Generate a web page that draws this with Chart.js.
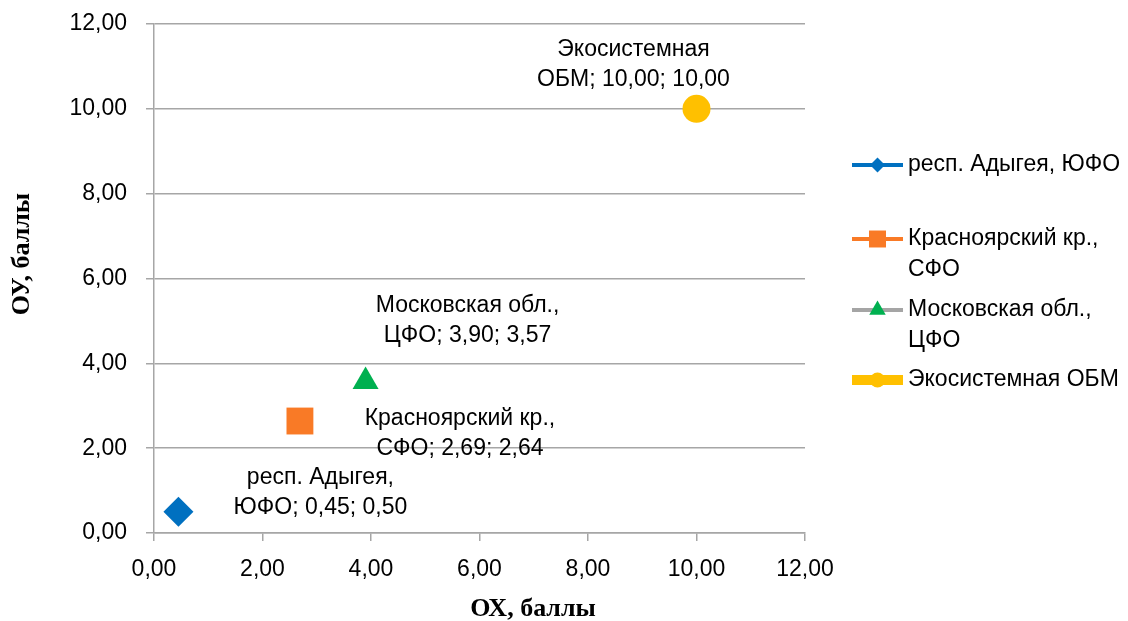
<!DOCTYPE html>
<html lang="ru">
<head>
<meta charset="utf-8">
<title>ОХ / ОУ, баллы</title>
<script src="https://cdn.jsdelivr.net/npm/chart.js@4/dist/chart.umd.min.js"></script>
<style>
  html, body { margin: 0; padding: 0; background: #ffffff; }
  #wrap { width: 1128px; height: 621px; }
</style>
</head>
<body>
<div id="wrap"><canvas id="chart" width="1128" height="621"></canvas></div>
<script>
// Regions and their scores on both axes
const regionNames = ['респ. Адыгея, ЮФО', 'Красноярский кр., СФО', 'Московская обл., ЦФО', 'Экосистемная ОБМ'];
const oxScores = [0.45, 2.69, 3.90, 10.00];
const oyScores = [0.50, 2.64, 3.57, 10.00];

// Axis range shared by OX and OY
const axisMin = 0;
const axisMax = 12;
const axisStep = 2;
const xAxisTitle = 'ОХ, баллы';
const yAxisTitle = 'ОУ, баллы';

// Marker and legend styling per series
const seriesStyle = [
  { color: '#0070C0', line: '#0070C0', lineWidth: 4, pointStyle: 'rectRot', radius: 15, legendRadius: 7.5 },
  { color: '#F97A26', line: '#F97A26', lineWidth: 4, pointStyle: 'rect', radius: 19, legendRadius: 12 },
  { color: '#00B050', line: '#A5A5A5', lineWidth: 4, pointStyle: 'triangle', radius: 15, legendRadius: 9.5 },
  { color: '#FFC000', line: '#FFC000', lineWidth: 10, pointStyle: 'circle', radius: 14, legendRadius: 7.5 }
];
// Where each value label sits relative to its marker (px)
const labelShift = [
  { dx: 142, dy: -19 },
  { dx: 160, dy: 13 },
  { dx: 102, dy: -61 },
  { dx: -63, dy: -44 }
];

const TEXT_FONT = '23px "Liberation Sans", Arial, sans-serif';
const TITLE_FONT = 'bold 26px "Liberation Serif", "Times New Roman", serif';
const fmt = v => v.toFixed(2).replace('.', ',');

// Breaks a name after its last comma, or after the first word
function splitName(name) {
  const c = name.lastIndexOf(', ');
  if (c >= 0) return [name.slice(0, c + 1), name.slice(c + 2)];
  const s = name.indexOf(' ');
  return s >= 0 ? [name.slice(0, s), name.slice(s + 1)] : [name];
}

const datasets = regionNames.map((name, i) => ({
  label: name,
  data: [{ x: oxScores[i], y: oyScores[i] }],
  pointStyle: seriesStyle[i].pointStyle,
  pointRadius: seriesStyle[i].radius,
  pointHoverRadius: seriesStyle[i].radius,
  backgroundColor: seriesStyle[i].color,
  borderColor: seriesStyle[i].color,
  borderWidth: 0,
  showLine: false
}));

// Value labels: "name; x; y" wrapped on two lines
const valueLabels = {
  id: 'valueLabels',
  afterDatasetsDraw(chart) {
    const ctx = chart.ctx;
    ctx.save();
    ctx.font = TEXT_FONT;
    ctx.fillStyle = '#000000';
    ctx.textAlign = 'center';
    ctx.textBaseline = 'middle';
    chart.data.datasets.forEach((ds, i) => {
      const el = chart.getDatasetMeta(i).data[0];
      const pt = ds.data[0];
      const parts = splitName(ds.label);
      const lines = [parts[0], (parts[1] ? parts[1] + '; ' : '') + fmt(pt.x) + '; ' + fmt(pt.y)];
      const cx = el.x + labelShift[i].dx;
      const cy = el.y + labelShift[i].dy;
      const lh = 30;
      lines.forEach((t, k) => {
        ctx.fillText(t, cx, cy + (k - (lines.length - 1) / 2) * lh);
      });
    });
    ctx.restore();
  }
};

// Axis titles
const axisTitles = {
  id: 'axisTitles',
  afterDraw(chart) {
    const ctx = chart.ctx;
    ctx.save();
    ctx.font = TITLE_FONT;
    ctx.fillStyle = '#000000';
    ctx.textAlign = 'center';
    ctx.textBaseline = 'middle';
    ctx.fillText(xAxisTitle, 533, 609);
    ctx.translate(22, 254);
    ctx.rotate(-Math.PI / 2);
    ctx.fillText(yAxisTitle, 0, 0);
    ctx.restore();
  }
};

// Legend with a line segment through each marker
const sideLegend = {
  id: 'sideLegend',
  afterDraw(chart, args, opts) {
    const ctx = chart.ctx;
    ctx.save();
    ctx.font = TEXT_FONT;
    ctx.textBaseline = 'middle';
    ctx.textAlign = 'left';
    chart.data.datasets.forEach((ds, i) => {
      const st = seriesStyle[i];
      const y = opts.rows[i];
      ctx.strokeStyle = st.line;
      ctx.lineWidth = st.lineWidth;
      ctx.lineCap = 'butt';
      ctx.beginPath();
      ctx.moveTo(opts.x0, y);
      ctx.lineTo(opts.x1, y);
      ctx.stroke();
      ctx.fillStyle = st.color;
      Chart.helpers.drawPoint(ctx, { pointStyle: st.pointStyle, radius: st.legendRadius, borderWidth: 0, rotation: 0 },
        (opts.x0 + opts.x1) / 2, y);
      ctx.fillStyle = '#000000';
      const lines = ctx.measureText(ds.label).width > opts.maxText ? splitName(ds.label) : [ds.label];
      lines.forEach((t, k) => ctx.fillText(t, opts.textX, y + k * 31));
    });
    ctx.restore();
  }
};

const gridColor = '#A6A6A6';

new Chart(document.getElementById('chart'), {
  type: 'scatter',
  data: { datasets },
  plugins: [valueLabels, axisTitles, sideLegend],
  options: {
    responsive: false,
    animation: false,
    devicePixelRatio: 1,
    layout: { padding: { top: 24, right: 323, bottom: 0, left: 0 } },
    plugins: {
      legend: { display: false },
      tooltip: { enabled: false },
      sideLegend: { x0: 852, x1: 903, textX: 908, maxText: 225, rows: [165, 239, 310, 380] }
    },
    scales: {
      x: {
        type: 'linear',
        min: axisMin,
        max: axisMax,
        afterFit(scale) { scale.height = 88; scale.paddingLeft = 0; scale.paddingRight = 0; },
        grid: { drawOnChartArea: false, drawTicks: true, tickLength: 8, color: gridColor, lineWidth: 1.5 },
        border: { display: true, color: gridColor, width: 1.5 },
        ticks: {
          stepSize: axisStep,
          padding: 15,
          color: '#000000',
          font: { family: '"Liberation Sans", Arial, sans-serif', size: 23 },
          callback: v => fmt(v)
        }
      },
      y: {
        type: 'linear',
        min: axisMin,
        max: axisMax,
        afterFit(scale) { scale.width = 154; scale.paddingTop = 0; scale.paddingBottom = 0; },
        grid: { drawOnChartArea: true, drawTicks: true, tickLength: 8, color: gridColor, lineWidth: 1.5 },
        border: { display: true, color: gridColor, width: 1.5 },
        ticks: {
          stepSize: axisStep,
          padding: 19,
          color: '#000000',
          font: { family: '"Liberation Sans", Arial, sans-serif', size: 23 },
          callback: v => fmt(v)
        }
      }
    }
  }
});
</script>
</body>
</html>
